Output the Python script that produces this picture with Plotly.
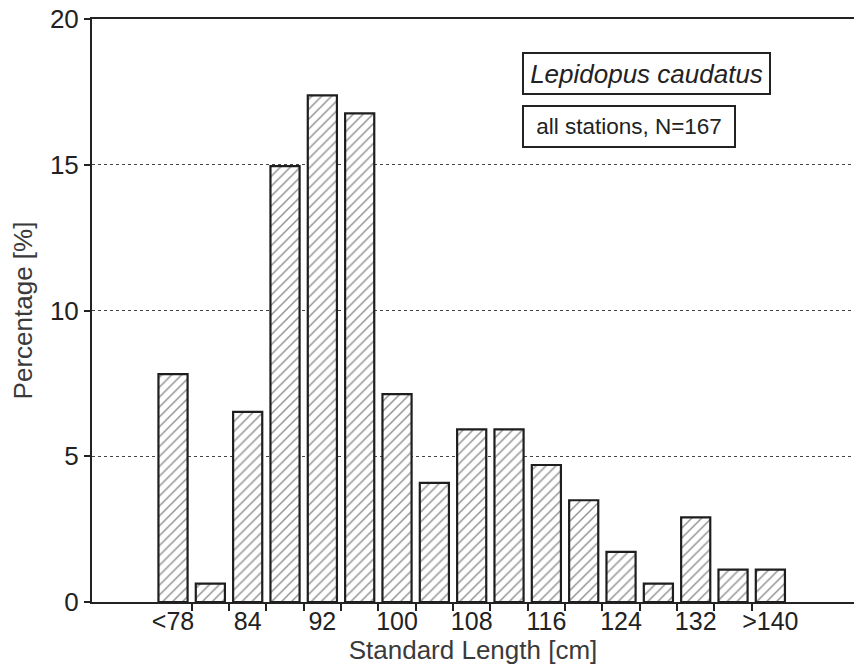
import plotly.graph_objects as go

# Length classes (bar order) and percentages
bins = list(range(17))
percent = [7.82, 0.63, 6.52, 14.95, 17.38, 16.76, 7.13, 4.09, 5.92, 5.92,
           4.70, 3.49, 1.72, 0.63, 2.90, 1.11, 1.11]
tick_pos = [0, 2, 4, 6, 8, 10, 12, 14, 16]
tick_text = ["<78", "84", "92", "100", "108", "116", "124", "132", ">140"]
boundaries = [b + 0.5 for b in bins[:-1]]

FONT = "Liberation Sans, Arial, Helvetica, sans-serif"
TXT = "#222222"

fig = go.Figure()
fig.add_trace(go.Bar(
    x=bins, y=percent,
    marker=dict(
        color="white",
        line=dict(color="#1e1e1e", width=2.2),
        pattern=dict(shape="/", fgcolor="#2a2a2a", bgcolor="white",
                     size=7, solidity=0.22),
    ),
    showlegend=False,
))

fig.update_layout(
    width=854, height=671,
    margin=dict(l=92, r=0, t=19, b=69),
    paper_bgcolor="white", plot_bgcolor="white",
    bargap=0.22,
    font=dict(family=FONT, color=TXT, size=22),
    xaxis=dict(
        range=[-2.17, 18.24],
        tickmode="array", tickvals=tick_pos, ticktext=tick_text,
        ticks="", showgrid=False, zeroline=False,
        showline=True, linecolor="#222222", linewidth=2, mirror=True,
        tickfont=dict(size=25, color=TXT),
        ticklabelstandoff=-4,
        minor=dict(tickmode="array", tickvals=boundaries, ticks="outside",
                   ticklen=7, tickwidth=2, tickcolor="#222222", showgrid=False),
        title=dict(text="Standard Length [cm]", font=dict(size=26, color="#3a3a3a"),
                   standoff=0),
    ),
    yaxis=dict(
        range=[0, 20], tickmode="array", tickvals=[0, 5, 10, 15, 20],
        ticks="outside", ticklen=6, tickwidth=2, tickcolor="#222222",
        showline=True, linecolor="#222222", linewidth=2,
        showgrid=True, gridcolor="#444444", gridwidth=1, griddash="dot",
        zeroline=False,
        tickfont=dict(size=26, color=TXT),
        title=dict(text="Percentage [%]", font=dict(size=26, color="#3a3a3a"),
                   standoff=10),
    ),
    annotations=[
        dict(xref="paper", yref="paper", x=(521.7 - 92) / 762, y=(602 - 51.7) / 583,
             xanchor="left", yanchor="top", showarrow=False,
             text="<i>Lepidopus caudatus</i>", font=dict(size=26, color=TXT),
             width=245, height=39, align="center", valign="middle",
             bordercolor="#222222", borderwidth=2, borderpad=0, bgcolor="white"),
        dict(xref="paper", yref="paper", x=(521.7 - 92) / 762, y=(602 - 105) / 583,
             xanchor="left", yanchor="top", showarrow=False,
             text="all stations, N=167", font=dict(size=22.5, color=TXT),
             width=210, height=39, align="center", valign="middle",
             bordercolor="#222222", borderwidth=2, borderpad=0, bgcolor="white"),
    ],
)

fig.write_html("out.html")
